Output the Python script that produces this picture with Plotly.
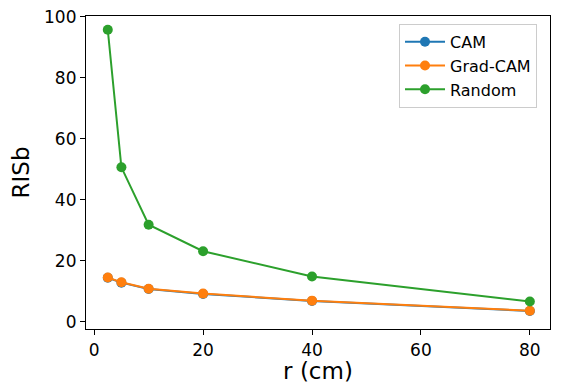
import plotly.graph_objects as go

# Data
r_cm = [2.5, 5, 10, 20, 40, 80]
cam = [14.5, 12.9, 10.8, 9.2, 6.9, 3.6]
grad_cam = [14.6, 13.0, 10.9, 9.3, 7.0, 3.7]
random_vals = [95.8, 50.7, 31.9, 23.2, 14.9, 6.7]

series = [
    ("CAM", cam, "#1f77b4"),
    ("Grad-CAM", grad_cam, "#ff7f0e"),
    ("Random", random_vals, "#2ca02c"),
]

fig = go.Figure()
for name, vals, color in series:
    fig.add_trace(go.Scatter(
        x=r_cm, y=vals, name=name, mode="lines+markers",
        line={"color": color, "width": 2},
        marker={"color": color, "size": 10},
    ))

axis_common = {
    "showline": True, "linecolor": "black", "linewidth": 1.2, "mirror": True,
    "ticks": "outside", "ticklen": 5, "tickcolor": "black",
    "showgrid": False, "zeroline": False, "ticklabeloverflow": "allow",
    "automargin": False,
    "tickfont": {"size": 17, "color": "black"},
}

# page body has an 8px margin, so the figure is sized to fit inside it
fig.update_layout(
    width=545, height=376,
    margin={"l": 78, "r": 3, "t": 8, "b": 55},
    plot_bgcolor="white", paper_bgcolor="white",
    font={"family": "DejaVu Sans", "color": "black"},
    xaxis={**axis_common, "range": [-1.5, 83.7], "tickvals": [0, 20, 40, 60, 80],
           "title": {"text": "r (cm)", "font": {"size": 23}, "standoff": 9}},
    yaxis={**axis_common, "range": [-2.3, 100.3], "tickvals": [0, 20, 40, 60, 80, 100],
           "title": {"text": "RISb", "font": {"size": 23}, "standoff": 10}},
    legend={
        "x": 0.972, "y": 0.975, "xanchor": "right", "yanchor": "top",
        "bgcolor": "white", "bordercolor": "#cccccc", "borderwidth": 1,
        "font": {"size": 16}, "itemwidth": 40,
    },
)

fig.write_html("out.html")
